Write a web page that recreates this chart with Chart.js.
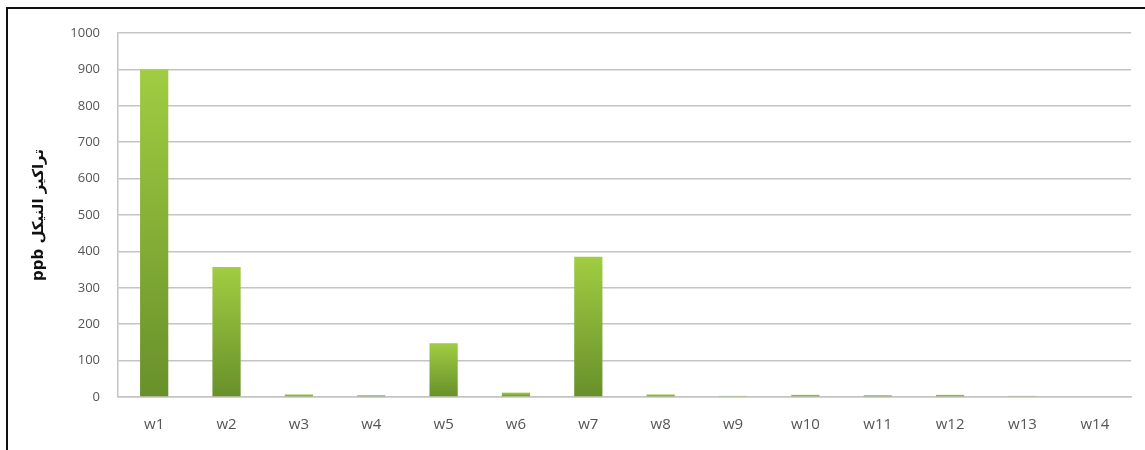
<!DOCTYPE html>
<html>
<head>
<meta charset="utf-8">
<script src="https://cdn.jsdelivr.net/npm/chart.js@4.4.1/dist/chart.umd.min.js"></script>
<style>
    html, body { margin: 0; padding: 0; background: #fff; overflow: hidden; }
    #wrap { position: relative; width: 1145px; height: 450px; }
    #frame {
        position: absolute; left: 6px; top: 7px; width: 1200px; height: 500px;
        border-left: 2px solid #111; border-top: 2px solid #111;
    }
    canvas { position: absolute; left: 0; top: 0; }
</style>
</head>
<body>
<div id="wrap">
    <div id="frame"></div>
    <canvas id="nickelChart" width="1145" height="450"></canvas>
</div>
<script>
// nickel concentration per well (ppb)
const wells = ['w1', 'w2', 'w3', 'w4', 'w5', 'w6', 'w7', 'w8', 'w9', 'w10', 'w11', 'w12', 'w13', 'w14'];
const nickelPpb = [900, 357, 7, 5, 148, 12, 385, 7, 3, 6, 5, 6, 3, 0];
const yTicks = [0, 100, 200, 300, 400, 500, 600, 700, 800, 900, 1000];
const yTitle = 'ppb تراكيز النيكل';

// each bar fades from light green at the top to olive at the base
function barFill(ctx) {
    const chart = ctx.chart;
    const y = chart.scales.y;
    if (!chart.chartArea || !y) return '#86b436';
    const top = y.getPixelForValue(ctx.raw);
    const base = y.getPixelForValue(0);
    if (base - top < 1) return '#6e9530';
    const g = chart.ctx.createLinearGradient(0, top, 0, base);
    g.addColorStop(0, '#a0cd42');
    g.addColorStop(1, '#68902a');
    return g;
}

const labelFamily = 'Open Sans, Liberation Sans, sans-serif';

new Chart(document.getElementById('nickelChart').getContext('2d'), {
    type: 'bar',
    data: {
        labels: wells,
        datasets: [{
            data: nickelPpb,
            backgroundColor: barFill,
            borderWidth: 0,
            barPercentage: 0.39,
            categoryPercentage: 1
        }]
    },
    options: {
        responsive: false,
        animation: false,
        events: [],
        layout: { padding: { left: 0, top: 33, right: 14, bottom: 0 } },
        plugins: { legend: { display: false }, tooltip: { enabled: false } },
        scales: {
            x: {
                grid: { display: false, drawTicks: false },
                border: { color: '#c4c4c4', width: 1.5 },
                ticks: { color: '#555', font: { family: labelFamily, size: 15 }, padding: 19 },
                afterFit: s => { s.height = 53; }
            },
            y: {
                min: 0,
                max: 1000,
                afterBuildTicks: s => { s.ticks = yTicks.map(v => ({ value: v })); },
                grid: { color: '#c4c4c4', lineWidth: 1.5, drawTicks: false },
                border: { color: '#c4c4c4', width: 1.5 },
                ticks: {
                    color: '#555',
                    font: { family: labelFamily, size: 13 },
                    padding: 18,
                    callback: v => String(v)
                },
                title: {
                    display: true,
                    text: yTitle,
                    color: '#111',
                    font: { family: 'DejaVu Sans, sans-serif', size: 15, weight: 'bold' },
                    padding: { top: 30, bottom: 0 }
                },
                afterFit: s => { s.width = 118; }
            }
        }
    }
});
</script>
</body>
</html>
